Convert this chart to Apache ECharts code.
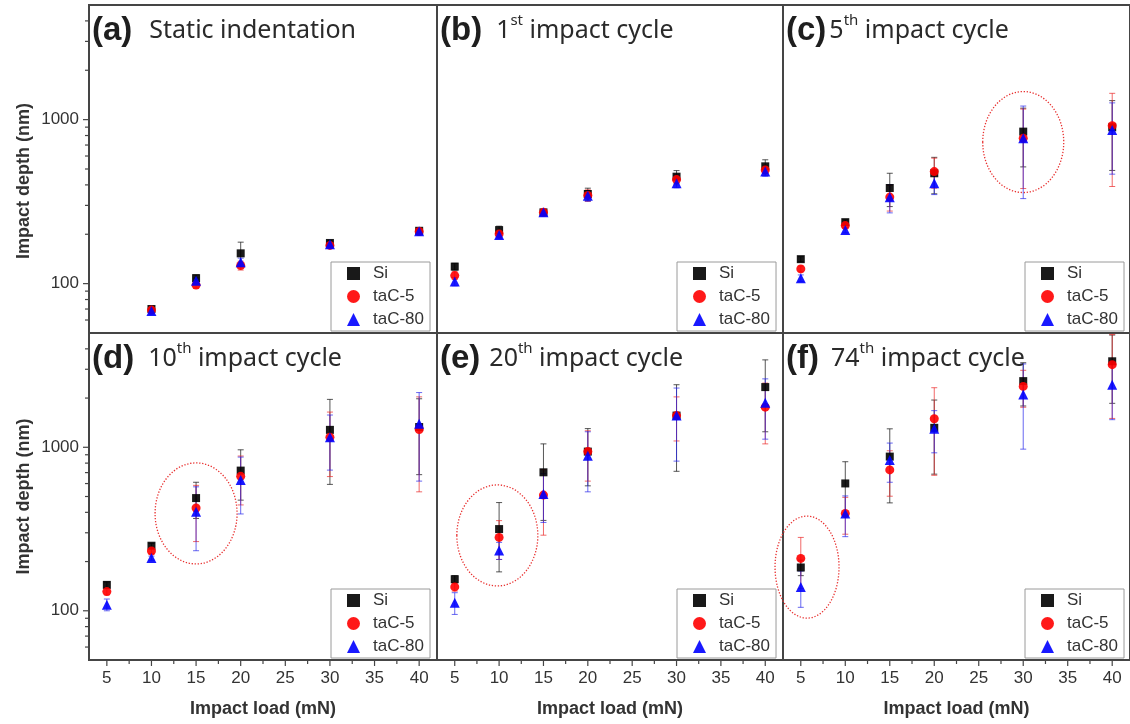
<!DOCTYPE html>
<html>
<head>
<meta charset="utf-8">
<script src="https://cdn.jsdelivr.net/npm/echarts@6/dist/echarts.min.js"></script>
<style>
  html, body { margin: 0; padding: 0; background: #ffffff; }
  #chart { width: 1130px; height: 724px; }
</style>
</head>
<body>
<div id="chart"></div>
<script>
// ---- axis ranges ----
const LOAD_MIN = 3, LOAD_MAX = 42;
const DEPTH_MIN = 50, DEPTH_MAX = 5000;

// ---- tick values ----
const loadLabelValues = [5, 10, 15, 20, 25, 30, 35, 40];
const loadTickValues = [5, 7.5, 10, 12.5, 15, 17.5, 20, 22.5, 25, 27.5, 30, 32.5, 35, 37.5, 40];
const depthLabelValues = [100, 1000];
const depthTickValues = [60, 70, 80, 90, 100, 200, 300, 400, 500, 600, 700, 800, 900, 1000, 2000, 3000, 4000];

// ---- samples and loads ----
const seriesNames = ['Si', 'taC-5', 'taC-80'];
const staticLoads = [10, 15, 20, 30, 40];
const impactLoads = [5, 10, 15, 20, 30, 40];

// (a) static indentation: mean depth and standard deviation (nm)
const siStatic = [70, 108, 153, 177, 210];
const siStaticSd = [3, 5, 26, 5, 6];
const tac5Static = [69, 98, 129, 171, 208];
const tac5StaticSd = [3, 4, 8, 5, 6];
const tac80Static = [68, 104, 135, 174, 209];
const tac80StaticSd = [3, 4, 8, 5, 6];

// (b) 1st impact cycle
const siCycle1 = [127, 212, 272, 352, 449, 519];
const siCycle1Sd = [6, 12, 10, 30, 40, 50];
const tac5Cycle1 = [112, 201, 272, 345, 431, 493];
const tac5Cycle1Sd = [6, 10, 10, 28, 30, 35];
const tac80Cycle1 = [103, 198, 272, 343, 409, 482];
const tac80Cycle1Sd = [6, 10, 10, 25, 25, 30];

// (c) 5th impact cycle
const siCycle5 = [141, 237, 383, 471, 845, 898];
const siCycle5Sd = [5, 8, 88, 118, 330, 408];
const tac5Cycle5 = [123, 226, 337, 482, 770, 919];
const tac5Cycle5Sd = [5, 8, 60, 100, 390, 528];
const tac80Cycle5 = [108, 212, 336, 410, 770, 865];
const tac80Cycle5Sd = [5, 8, 66, 61, 440, 400];

// (d) 10th impact cycle
const siCycle10 = [144, 250, 489, 720, 1278, 1330];
const siCycle10Sd = [6, 8, 122, 245, 685, 650];
const tac5Cycle10 = [131, 232, 425, 664, 1152, 1284];
const tac5Cycle10Sd = [6, 8, 160, 220, 490, 750];
const tac80Cycle10 = [109, 210, 403, 631, 1150, 1391];
const tac80Cycle10Sd = [9, 6, 170, 240, 425, 770];

// (e) 20th impact cycle
const siCycle20 = [156, 316, 703, 941, 1563, 2334];
const siCycle20Sd = [8, 143, 346, 360, 850, 1090];
const tac5Cycle20 = [140, 281, 510, 941, 1563, 1759];
const tac5Cycle20Sd = [8, 75, 220, 320, 470, 710];
const tac80Cycle20 = [112, 234, 518, 889, 1563, 1871];
const tac80Cycle20Sd = [17, 28, 171, 355, 740, 750];

// (f) 74th impact cycle
const siCycle74 = [184, 601, 877, 1315, 2539, 3357];
const siCycle74Sd = [20, 215, 420, 630, 750, 1500];
const tac5Cycle74 = [209, 394, 727, 1494, 2357, 3201];
const tac5Cycle74Sd = [72, 100, 225, 820, 600, 1700];
const tac80Cycle74 = [140, 394, 836, 1300, 2104, 2415];
const tac80Cycle74Sd = [35, 110, 225, 375, 1130, 940];

// highlighted points (dotted ellipses): panel index, load, depth
const highlightPanels = [2, 3, 4, 5];
const highlightLoads = [30, 15, 9.8, 5.7];
const highlightDepths = [730, 394, 289, 185];

// ---- panel text ----
const panelTags = ['(a)', '(b)', '(c)', '(d)', '(e)', '(f)'];
const panelNumbers = ['', '1', '5', '10', '20', '74'];
const panelSuffixes = ['', 'st', 'th', 'th', 'th', 'th'];
const panelCaptions = ['Static indentation', ' impact cycle', ' impact cycle', ' impact cycle', ' impact cycle', ' impact cycle'];

const panels = [
  { loads: staticLoads, means: [siStatic, tac5Static, tac80Static], sds: [siStaticSd, tac5StaticSd, tac80StaticSd] },
  { loads: impactLoads, means: [siCycle1, tac5Cycle1, tac80Cycle1], sds: [siCycle1Sd, tac5Cycle1Sd, tac80Cycle1Sd] },
  { loads: impactLoads, means: [siCycle5, tac5Cycle5, tac80Cycle5], sds: [siCycle5Sd, tac5Cycle5Sd, tac80Cycle5Sd] },
  { loads: impactLoads, means: [siCycle10, tac5Cycle10, tac80Cycle10], sds: [siCycle10Sd, tac5Cycle10Sd, tac80Cycle10Sd] },
  { loads: impactLoads, means: [siCycle20, tac5Cycle20, tac80Cycle20], sds: [siCycle20Sd, tac5Cycle20Sd, tac80Cycle20Sd] },
  { loads: impactLoads, means: [siCycle74, tac5Cycle74, tac80Cycle74], sds: [siCycle74Sd, tac5Cycle74Sd, tac80Cycle74Sd] }
];

// ---- layout & style ----
const COLS = [{ left: 89, width: 348 }, { left: 437, width: 346 }, { left: 783, width: 348 }];
const ROWS = [{ top: 5, height: 328 }, { top: 333, height: 327 }];
const AXIS_COLOR = '#454545';
const LABEL_FONT = '"Liberation Sans", Arial, sans-serif';
const TITLE_FONT = '"Noto Sans", "Open Sans", sans-serif';
const markerSymbols = ['rect', 'circle', 'triangle'];
const markerSizes = [8, 9, 10];
const markerColors = ['#000000', '#ff0000', '#0000ff'];
const errorColors = ['rgba(30,30,30,0.75)', 'rgba(235,40,40,0.7)', 'rgba(40,40,235,0.7)'];
const tagGaps = [17, 14, 3, 14, 9, 12];
const ellipseRadii = { 2: [40.5, 50.5], 3: [41, 50.5], 4: [40.5, 50.5], 5: [32, 51] };

function errorBarItem(params, api) {
  const x = api.value(0), m = api.value(1), sd = api.value(2);
  const color = api.visual('color');
  const top = api.coord([x, m + sd]);
  const low = m - sd;
  const bottom = low > 0 ? api.coord([x, low]) : [top[0], params.coordSys.y + params.coordSys.height + 20];
  const cap = 3;
  const st = { stroke: color, lineWidth: 1 };
  return {
    type: 'group',
    children: [
      { type: 'line', shape: { x1: top[0], y1: top[1], x2: bottom[0], y2: bottom[1] }, style: st },
      { type: 'line', shape: { x1: top[0] - cap, y1: top[1], x2: top[0] + cap, y2: top[1] }, style: st },
      { type: 'line', shape: { x1: bottom[0] - cap, y1: bottom[1], x2: bottom[0] + cap, y2: bottom[1] }, style: st }
    ]
  };
}

function depthTickItem(params, api) {
  const v = api.value(1);
  const p = api.coord([LOAD_MIN, v]);
  const lg = Math.log10(v);
  const len = Math.abs(lg - Math.round(lg)) < 1e-6 ? 5 : 3;
  return { type: 'line', shape: { x1: p[0] - 1 - len, y1: p[1], x2: p[0] - 1, y2: p[1] }, style: { stroke: AXIS_COLOR, lineWidth: 1.2 } };
}

function loadTickItem(params, api) {
  const v = api.value(0);
  const p = api.coord([v, DEPTH_MIN]);
  const len = loadLabelValues.indexOf(v) >= 0 ? 5 : 3;
  return { type: 'line', shape: { x1: p[0], y1: p[1] + 1, x2: p[0], y2: p[1] + 1 + len }, style: { stroke: AXIS_COLOR, lineWidth: 1.2 } };
}

const grid = [], xAxis = [], yAxis = [], series = [], legend = [], title = [];

panels.forEach((panel, i) => {
  const row = Math.floor(i / 3), col = i % 3;
  const c = COLS[col], r = ROWS[row];

  grid.push({
    left: c.left, top: r.top, width: c.width, height: r.height,
    show: true, borderColor: AXIS_COLOR, borderWidth: 2, backgroundColor: 'transparent', containLabel: false
  });

  xAxis.push({
    gridIndex: i, type: 'value', min: LOAD_MIN, max: LOAD_MAX,
    axisLine: { show: false }, axisTick: { show: false }, splitLine: { show: false },
    axisLabel: {
      show: row === 1, customValues: loadLabelValues,
      fontSize: 17, color: '#333', fontFamily: LABEL_FONT, margin: 10
    },
    name: row === 1 ? 'Impact load (mN)' : '',
    nameLocation: 'middle', nameGap: 40,
    nameTextStyle: { fontSize: 18, fontWeight: 'bold', color: '#333', fontFamily: LABEL_FONT }
  });

  yAxis.push({
    gridIndex: i, type: 'log', logBase: 10, min: DEPTH_MIN, max: DEPTH_MAX,
    axisLine: { show: false }, axisTick: { show: false }, splitLine: { show: false }, minorTick: { show: false },
    axisLabel: {
      show: col === 0, fontSize: 17, color: '#333', fontFamily: LABEL_FONT, margin: 10,
      formatter: v => depthLabelValues.indexOf(Math.round(v)) >= 0 ? String(Math.round(v)) : ''
    },
    name: col === 0 ? 'Impact depth (nm)' : '',
    nameLocation: 'middle', nameGap: 56,
    nameTextStyle: {
      fontSize: 18, fontWeight: 'bold', color: '#333', fontFamily: LABEL_FONT,
      padding: row === 0 ? [0, 24, 0, 0] : [0, 0, 0, 0]
    }
  });

  // error bars
  for (let s = 0; s < 3; s++) {
    series.push({
      type: 'custom', xAxisIndex: i, yAxisIndex: i, clip: true, z: 3, silent: true,
      itemStyle: { color: errorColors[s] },
      encode: { x: 0, y: 1 },
      data: panel.loads.map((l, k) => [l, panel.means[s][k], panel.sds[s][k]]),
      renderItem: errorBarItem
    });
  }
  // markers
  for (let s = 0; s < 3; s++) {
    series.push({
      type: 'scatter', name: seriesNames[s], xAxisIndex: i, yAxisIndex: i, z: 4,
      symbol: markerSymbols[s], symbolSize: markerSizes[s],
      itemStyle: { color: markerColors[s], opacity: 0.9 },
      emphasis: { disabled: true },
      data: panel.loads.map((l, k) => [l, panel.means[s][k]])
    });
  }
  // axis ticks
  if (col === 0) {
    series.push({
      type: 'custom', xAxisIndex: i, yAxisIndex: i, clip: false, silent: true, z: 5,
      encode: { x: 0, y: 1 },
      data: depthTickValues.map(v => [LOAD_MIN, v]),
      renderItem: depthTickItem
    });
  }
  if (row === 1) {
    series.push({
      type: 'custom', xAxisIndex: i, yAxisIndex: i, clip: false, silent: true, z: 5,
      encode: { x: 0, y: 1 },
      data: loadTickValues.map(v => [v, DEPTH_MIN]),
      renderItem: loadTickItem
    });
  }

  legend.push({
    data: seriesNames, orient: 'vertical', selectedMode: false,
    left: c.left + c.width - 106, top: r.top + r.height - 71,
    itemWidth: 13, itemHeight: 13, itemGap: 6,
    padding: [3, 6, 3, 16],
    borderColor: '#9a9a9a', borderWidth: 1, backgroundColor: '#ffffff',
    textStyle: { fontSize: 17, color: '#333', fontFamily: LABEL_FONT, padding: [0, 0, 0, 8] }
  });

  const capText = panelNumbers[i]
    ? '{tag|' + panelTags[i] + '}{gap| }{txt|' + panelNumbers[i] + '}{sup|' + panelSuffixes[i] + '}{txt|' + panelCaptions[i] + '}'
    : '{tag|' + panelTags[i] + '}{gap| }{txt|' + panelCaptions[i] + '}';
  title.push({
    text: capText, left: c.left + 3, top: r.top + 8, padding: 0,
    textStyle: {
      fontWeight: 'normal',
      rich: {
        tag: { fontSize: 33, fontWeight: 'bold', fontFamily: LABEL_FONT, color: '#1e1e1e', lineHeight: 36 },
        gap: { width: tagGaps[i], fontSize: 10, fontWeight: 'normal', lineHeight: 36 },
        txt: { fontSize: 25, fontWeight: 'normal', fontFamily: TITLE_FONT, color: '#2a2a2a', lineHeight: 36 },
        sup: { fontSize: 15, fontWeight: 'normal', fontFamily: TITLE_FONT, color: '#2a2a2a', verticalAlign: 'top', lineHeight: 22 }
      }
    }
  });
});

// dotted ellipses around highlighted points
highlightPanels.forEach((p, k) => {
  const radii = ellipseRadii[p];
  series.push({
    type: 'custom', xAxisIndex: p, yAxisIndex: p, clip: false, silent: true, z: 2,
    encode: { x: 0, y: 1 },
    data: [[highlightLoads[k], highlightDepths[k]]],
    renderItem: (params, api) => {
      const ctr = api.coord([api.value(0), api.value(1)]);
      return {
        type: 'ellipse',
        shape: { cx: ctr[0], cy: ctr[1], rx: radii[0], ry: radii[1] },
        style: { fill: 'none', stroke: '#e8302f', lineWidth: 1.3, lineDash: [1.3, 1.7] }
      };
    }
  });
});

const chart = echarts.init(document.getElementById('chart'), null, { renderer: 'canvas' });
chart.setOption({
  animation: false,
  backgroundColor: '#ffffff',
  title, grid, xAxis, yAxis, legend, series
});
</script>
</body>
</html>
